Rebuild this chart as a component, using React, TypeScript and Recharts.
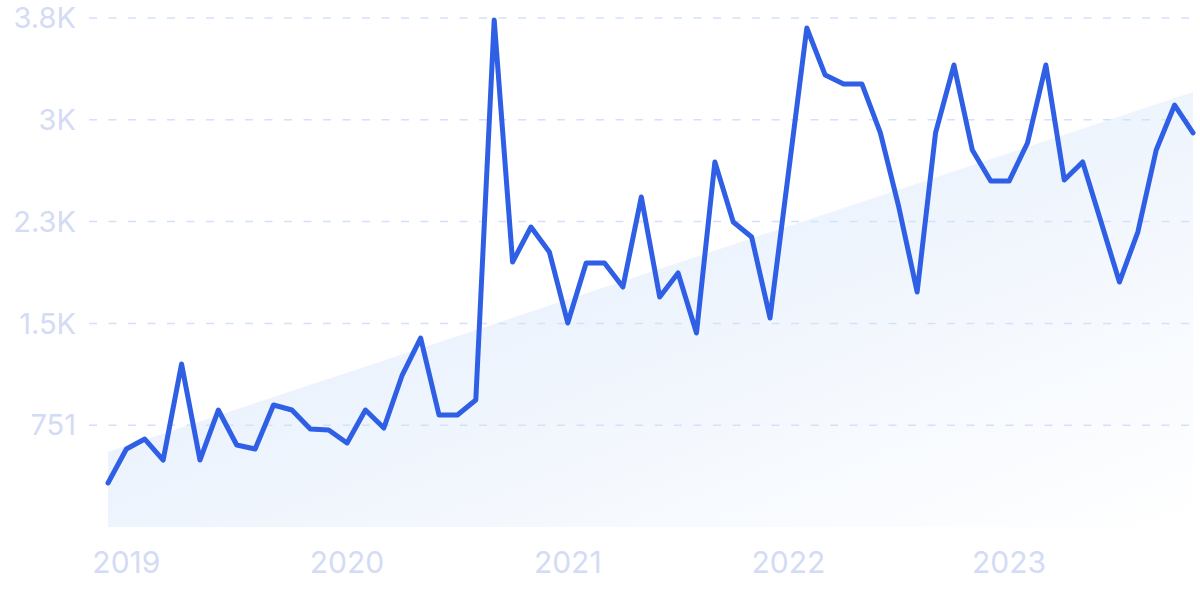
import { ComposedChart, Line, Area, XAxis, YAxis, ReferenceLine } from "recharts";

// monthly values, Dec 2018 .. Nov 2023
const months = [
  "2018-12",
  "2019-01", "2019-02", "2019-03", "2019-04", "2019-05", "2019-06",
  "2019-07", "2019-08", "2019-09", "2019-10", "2019-11", "2019-12",
  "2020-01", "2020-02", "2020-03", "2020-04", "2020-05", "2020-06",
  "2020-07", "2020-08", "2020-09", "2020-10", "2020-11", "2020-12",
  "2021-01", "2021-02", "2021-03", "2021-04", "2021-05", "2021-06",
  "2021-07", "2021-08", "2021-09", "2021-10", "2021-11", "2021-12",
  "2022-01", "2022-02", "2022-03", "2022-04", "2022-05", "2022-06",
  "2022-07", "2022-08", "2022-09", "2022-10", "2022-11", "2022-12",
  "2023-01", "2023-02", "2023-03", "2023-04", "2023-05", "2023-06",
  "2023-07", "2023-08", "2023-09", "2023-10", "2023-11",
];

const searches = [
  325,
  575, 649, 494, 1202, 494, 863, 605, 575, 900, 863, 723, 716,
  620, 863, 730, 1121, 1394, 826, 826, 937, 3740, 1955, 2213, 2029,
  1505, 1948, 1948, 1770, 2434, 1697, 1874, 1431, 2693, 2250, 2139, 1542,
  2611, 3681, 3334, 3268, 3268, 2907, 2361, 1734, 2907, 3408, 2781, 2552,
  2552, 2833, 3408, 2560, 2693, 2250, 1807, 2176, 2781, 3113, 2907,
];

// trend line end points (first and last month)
const trendStart = 553;
const trendEnd = 3209;

const yTicks = [751, 1502, 2253, 3004, 3755];
const yTickLabels = ["751", "1.5K", "2.3K", "3K", "3.8K"];
const yearLabels = ["2019", "2020", "2021", "2022", "2023"];

const data = months.map((m, i) => ({
  idx: i,
  month: m,
  value: searches[i],
  trend: i === 0 ? trendStart : i === months.length - 1 ? trendEnd : null,
}));

const yearTicks = yearLabels.map((y) => months.indexOf(`${y}-01`));

const LABEL = "#D3DBF5";
const FONT = "Inter, 'Noto Sans', sans-serif";

export default function App() {
  return (
    <div style={{ position: "absolute", left: 0, top: 0, background: "#fff" }}>
      <ComposedChart
        width={1200}
        height={599}
        data={data}
        margin={{ top: 18, right: 7, bottom: 0, left: 0 }}
      >
        <defs>
          <linearGradient id="trendFill" x1="0" y1="0" x2="1" y2="1">
            <stop offset="0%" stopColor="#DEEAFB" />
            <stop offset="100%" stopColor="#FFFFFF" />
          </linearGradient>
        </defs>
        <XAxis
          dataKey="idx"
          type="number"
          domain={[0, months.length - 1]}
          ticks={yearTicks}
          tickFormatter={(v: number) => months[v].slice(0, 4)}
          padding={{ left: 19, right: 0 }}
          axisLine={false}
          tickLine={false}
          tickSize={0}
          tickMargin={25}
          height={72}
          tick={{ fontSize: 30, fill: LABEL, fontFamily: FONT }}
          interval={0}
        />
        <YAxis
          domain={[0, 3755]}
          ticks={yTicks}
          tickFormatter={(v: number) => yTickLabels[yTicks.indexOf(v)]}
          axisLine={false}
          tickLine={false}
          tickSize={0}
          tickMargin={13}
          width={89}
          tick={{ fontSize: 29, fill: LABEL, fontFamily: FONT }}
          interval={0}
        />
        {yTicks.map((t) => (
          <ReferenceLine
            key={t}
            y={t}
            stroke="#D3E2FB"
            strokeWidth={1.5}
            strokeDasharray="8 11.5"
          />
        ))}
        <Area
          dataKey="trend"
          type="linear"
          connectNulls
          stroke="none"
          fill="url(#trendFill)"
          fillOpacity={1}
          isAnimationActive={false}
        />
        <Line
          dataKey="value"
          type="linear"
          stroke="#2F5FE4"
          strokeWidth={5}
          strokeLinejoin="round"
          strokeLinecap="round"
          dot={false}
          isAnimationActive={false}
        />
      </ComposedChart>
    </div>
  );
}
